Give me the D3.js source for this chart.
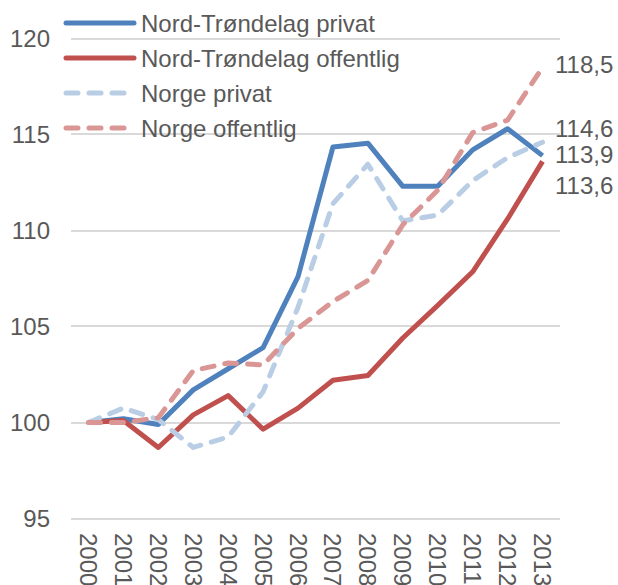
<!DOCTYPE html>
<html>
<head>
<meta charset="utf-8">
<script src="https://cdn.jsdelivr.net/npm/d3@7"></script>
<style>
  html, body { margin: 0; padding: 0; background: #fff; }
  svg { display: block; }
  text { font-family: "Liberation Sans", Arial, sans-serif; fill: #595959; }
</style>
</head>
<body>
<svg id="chart" width="618" height="585"></svg>
<script>
const years = ["2000","2001","2002","2003","2004","2005","2006","2007","2008","2009","2010","2011","2012","2013"];
const ntPrivat     = [100, 100.2, 99.9, 101.7, 102.8, 103.9, 107.6, 114.35, 114.55, 112.3, 112.3, 114.2, 115.3, 113.9];
const ntOffentlig  = [100, 100.1, 98.7, 100.4, 101.4, 99.65, 100.75, 102.2, 102.45, 104.4, 106.1, 107.85, 110.6, 113.6];
const norgePrivat  = [100, 100.75, 100.15, 98.7, 99.25, 101.6, 106.0, 111.4, 113.45, 110.5, 110.8, 112.6, 113.8, 114.6];
const norgeOffentlig = [100, 100.0, 100.25, 102.7, 103.1, 103.0, 104.9, 106.3, 107.4, 110.3, 112.1, 115.1, 115.75, 118.5];
const seriesNames = ["Nord-Trøndelag privat", "Nord-Trøndelag offentlig", "Norge privat", "Norge offentlig"];
const endLabels = ["113,9", "113,6", "114,6", "118,5"];
const yTicks = [95, 100, 105, 110, 115, 120];

const seriesData = [ntPrivat, ntOffentlig, norgePrivat, norgeOffentlig];
const styles = [
  { color: "#4F81BD", dash: null, labelDy: -1.6 },
  { color: "#C0504D", dash: null, labelDy: 24.6 },
  { color: "#B9CDE5", dash: "12,11", labelDy: -14 },
  { color: "#D99694", dash: "12,11", labelDy: -3 }
];

const svg = d3.select("#chart");
const plotLeft = 71, plotRight = 560, plotTop = 38.5, plotBottom = 518.5;
const fs = 24;

const x = d3.scaleBand().domain(years).range([plotLeft, plotRight]);
const y = d3.scaleLinear().domain([95, 120]).range([plotBottom, plotTop]);

// gridlines
svg.append("g").selectAll("line").data(yTicks).join("line")
  .attr("x1", plotLeft).attr("x2", plotRight)
  .attr("y1", d => Math.round(y(d))).attr("y2", d => Math.round(y(d)))
  .attr("stroke", "#D9D9D9").attr("stroke-width", 2);

// y labels
svg.append("g").selectAll("text").data(yTicks).join("text")
  .attr("x", 50).attr("y", d => y(d))
  .attr("text-anchor", "end").attr("dominant-baseline", "central")
  .attr("font-size", fs)
  .text(d => d);

// x labels rotated
svg.append("g").selectAll("text").data(years).join("text")
  .attr("transform", d => `translate(${x(d) + x.bandwidth() / 2},533) rotate(90)`)
  .attr("text-anchor", "start").attr("dominant-baseline", "central")
  .attr("font-size", fs)
  .text(d => d);

// lines
const line = d3.line()
  .x((d, i) => x(years[i]) + x.bandwidth() / 2)
  .y(d => y(d));

seriesData.forEach((vals, k) => {
  const p = svg.append("path")
    .attr("d", line(vals))
    .attr("fill", "none")
    .attr("stroke", styles[k].color)
    .attr("stroke-width", 5)
    .attr("stroke-linejoin", "round");
  if (styles[k].dash) p.attr("stroke-dasharray", styles[k].dash).attr("stroke-linecap", "round");
});

// end labels
seriesData.forEach((vals, k) => {
  svg.append("text")
    .attr("x", 555)
    .attr("y", y(vals[vals.length - 1]) + styles[k].labelDy)
    .attr("dominant-baseline", "central")
    .attr("font-size", fs)
    .text(endLabels[k]);
});

// legend
const legY = [23, 58, 93, 128];
seriesNames.forEach((name, k) => {
  const l = svg.append("line")
    .attr("x1", 66).attr("x2", 134)
    .attr("y1", legY[k]).attr("y2", legY[k])
    .attr("stroke", styles[k].color).attr("stroke-width", 5)
    .attr("stroke-linecap", "round");
  if (styles[k].dash) l.attr("stroke-dasharray", styles[k].dash);
  svg.append("text")
    .attr("x", 141).attr("y", legY[k])
    .attr("dominant-baseline", "central")
    .attr("font-size", fs)
    .text(name);
});
</script>
</body>
</html>
